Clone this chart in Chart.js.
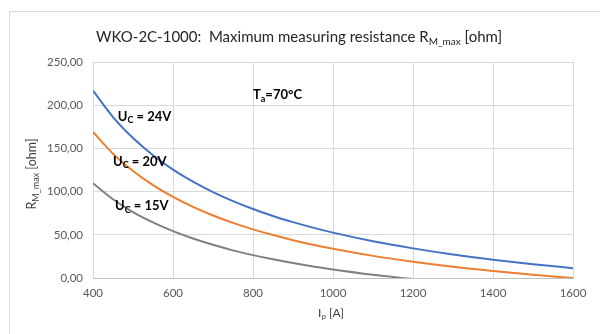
<!DOCTYPE html>
<html>
<head>
<meta charset="utf-8">
<script src="https://cdn.jsdelivr.net/npm/chart.js@4.4.1/dist/chart.umd.min.js"></script>
<style>
  html, body { margin: 0; padding: 0; background: #fff; }
  #frame { position: absolute; left: 9px; top: 11px; width: 620px; height: 340px; border: 1px solid #d9d9d9; }
  #wrap { position: absolute; left: 0; top: 0; width: 600px; height: 334px; }
</style>
</head>
<body>
<div id="frame"></div>
<div id="wrap"><canvas id="myChart"></canvas></div>
<script>
// primary current Ip [A]
const currents = [400, 450, 500, 550, 600, 650, 700, 750, 800, 850, 900, 950, 1000, 1100, 1200, 1300, 1400, 1500, 1600];
// RM_max [ohm] per supply voltage
const r24V = [216.8, 186.3, 162.0, 142.1, 125.5, 111.5, 99.4, 89.0, 79.9, 71.8, 64.7, 58.3, 52.5, 42.5, 34.3, 27.2, 21.2, 16.0, 11.4];
const r20V = [169.0, 143.9, 123.9, 107.5, 93.9, 82.3, 72.4, 63.8, 56.3, 49.7, 43.8, 38.5, 33.8, 25.6, 18.8, 13.0, 8.1, 3.8, 0.0];
const r15V = [109.6, 91.1, 76.3, 64.3, 54.2, 45.7, 38.4, 32.0, 26.5, 21.6, 17.3, 13.4, 9.9, 3.8, -1.2, null, null, null, null];
const xTicks = [400, 600, 800, 1000, 1200, 1400, 1600];
const yTicks = [0, 50, 100, 150, 200, 250];

const seriesColours = ['#4472C4', '#ED7D31', '#808080'];
const FONT = 'Lato, "Open Sans", sans-serif';

function toPoints(values) {
    return currents.map((x, i) => ({x: x, y: values[i]}));
}

// draws text with subscript parts; parts = [[text, isSub], ...]
function drawRich(ctx, parts, x, y, size, weight, align) {
    const main = weight + ' ' + size + 'px ' + FONT;
    const sub = weight + ' ' + Math.round(size * 0.68) + 'px ' + FONT;
    let total = 0;
    parts.forEach(p => { ctx.font = p[1] ? sub : main; total += ctx.measureText(p[0]).width; });
    let cx = align === 'center' ? x - total / 2 : x;
    ctx.textBaseline = 'middle';
    ctx.textAlign = 'left';
    parts.forEach(p => {
        ctx.font = p[1] ? sub : main;
        ctx.fillText(p[0], cx, p[1] ? y + size * 0.32 : y);
        cx += ctx.measureText(p[0]).width;
    });
}

const labelsPlugin = {
    id: 'richLabels',
    afterDraw(chart) {
        const ctx = chart.ctx;
        const xs = chart.scales.x, ys = chart.scales.y;
        ctx.save();
        ctx.fillStyle = '#262626';
        drawRich(ctx, [['WKO-2C-1000:  Maximum measuring resistance R', false], ['M_max', true], [' [ohm]', false]], 299, 37, 15, 'normal', 'center');

        ctx.fillStyle = '#000';
        drawRich(ctx, [['U', false], ['C', true], [' = 24V', false]], xs.getPixelForValue(462), ys.getPixelForValue(187), 13, 'bold', 'left');
        drawRich(ctx, [['U', false], ['C', true], [' = 20V', false]], xs.getPixelForValue(450), ys.getPixelForValue(135), 13, 'bold', 'left');
        drawRich(ctx, [['U', false], ['C', true], [' = 15V', false]], xs.getPixelForValue(455), ys.getPixelForValue(83), 13, 'bold', 'left');
        drawRich(ctx, [['T', false], ['a', true], ['=70°C', false]], xs.getPixelForValue(800), ys.getPixelForValue(212), 13, 'bold', 'left');

        ctx.fillStyle = '#404040';
        drawRich(ctx, [['I', false], ['p', true], [' [A]', false]], 331, 313, 12, 'normal', 'center');
        ctx.translate(32, 174);
        ctx.rotate(-Math.PI / 2);
        drawRich(ctx, [['R', false], ['M_max', true], [' [ohm]', false]], 0, 0, 12.5, 'normal', 'center');
        ctx.restore();
    }
};

const ctx = document.getElementById('myChart').getContext('2d');
const myChart = new Chart(ctx, {
    type: 'line',
    data: {
        datasets: [
            {label: 'Uc = 24V', data: toPoints(r24V), borderColor: seriesColours[0]},
            {label: 'Uc = 20V', data: toPoints(r20V), borderColor: seriesColours[1]},
            {label: 'Uc = 15V', data: toPoints(r15V), borderColor: seriesColours[2]},
        ]
    },
    options: {
        responsive: true,
        maintainAspectRatio: false,
        animation: false,
        layout: {padding: {left: 0, top: 62, right: 27, bottom: 0}},
        elements: {
            point: {radius: 0},
            line: {borderWidth: 2, cubicInterpolationMode: 'monotone', fill: false}
        },
        plugins: {legend: {display: false}, tooltip: {enabled: false}},
        scales: {
            x: {
                type: 'linear', min: 400, max: 1600,
                afterFit: s => { s.height = 56; },
                afterBuildTicks: s => { s.ticks = xTicks.map(v => ({value: v})); },
                grid: {color: '#d9d9d9', drawTicks: false},
                border: {color: '#bfbfbf'},
                ticks: {
                    padding: 8, color: '#595959', font: {family: FONT, size: 11.5},
                    callback: v => String(v)
                }
            },
            y: {
                min: 0, max: 250,
                afterFit: s => { s.width = 93; },
                afterBuildTicks: s => { s.ticks = yTicks.map(v => ({value: v})); },
                grid: {color: '#d9d9d9', drawTicks: false},
                border: {display: false},
                ticks: {
                    padding: 10, color: '#595959', font: {family: FONT, size: 11.5},
                    callback: v => v.toFixed(2).replace('.', ',')
                }
            }
        }
    },
    plugins: [labelsPlugin]
});
</script>
</body>
</html>
